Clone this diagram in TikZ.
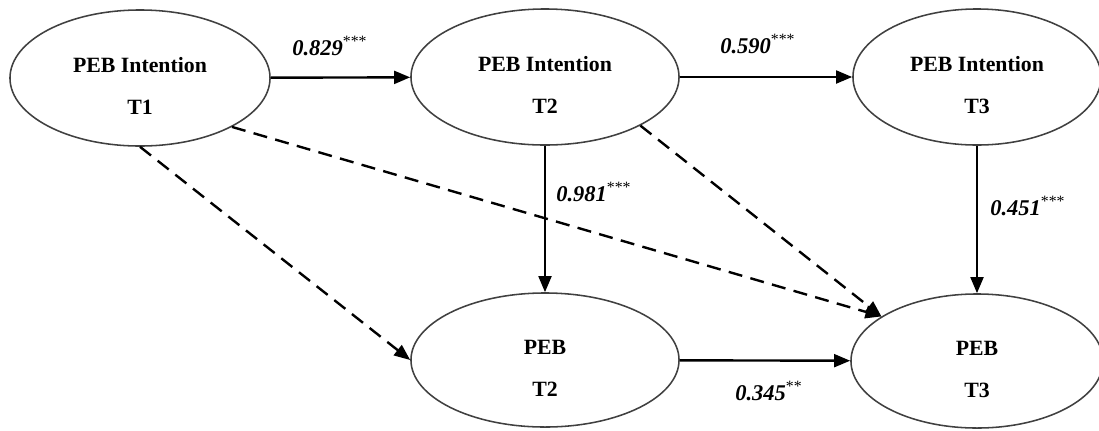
\documentclass[tikz,border=0pt]{standalone}
\usepackage{fontspec}
\setmainfont{Liberation Serif}
\usetikzlibrary{shapes.geometric,arrows.meta}

\newcommand{\pstars}[1]{\textsuperscript{\mdseries\upshape #1}}
\newcommand{\lift}{\rule{0pt}{22pt}}

\begin{document}
\begin{tikzpicture}[x=0.025cm, y=-0.025cm,
    latent/.style={ellipse, draw=black!75, line width=1.1pt, minimum width=#1,
        minimum height=3.4cm, inner sep=0pt, align=center,
        font=\fontsize{15.5}{18}\selectfont\bfseries},
    effect/.style={line width=1.7pt, -{Triangle[length=0.4cm, width=0.32cm]}},
    nseffect/.style={effect, dash pattern=on 10pt off 6pt},
    coef/.style={anchor=base west, inner sep=0pt,
        font=\fontsize{16}{19}\selectfont\bfseries\itshape}]

    \useasboundingbox (0,0) rectangle (1099,430);

    % Intention, three waves
    \node[latent=6.5cm] (int1) at (140,78) {\lift PEB Intention\\[12pt]T1};
    \node[latent=6.7cm] (int2) at (545,77) {\lift PEB Intention\\[12pt]T2};
    \node[latent=6.2cm] (int3) at (977,77) {\lift PEB Intention\\[12pt]T3};

    % Behaviour, two waves
    \node[latent=6.7cm, minimum height=3.35cm] (peb2) at (545,360) {\lift PEB\\[12pt]T2};
    \node[latent=6.3cm, minimum height=3.35cm] (peb3) at (977,361) {\lift PEB\\[12pt]T3};

    % Significant paths
    \draw[effect] (int1) -- (int2);
    \draw[effect] (int2) -- (int3);
    \draw[effect] (int2) -- (peb2);
    \draw[effect] (int3) -- (peb3);
    \draw[effect] (peb2) -- (peb3);

    % Non-significant paths
    \draw[nseffect] (int1.south) -- (peb2.west);
    \draw[nseffect] (int1.332) -- (peb3.155);
    \draw[nseffect] (int2.333) -- (peb3.155);

    % Coefficients
    \node[coef] (b12) at (292,55) {0.829\pstars{***}};
    \node[coef] (b23) at (720,53) {0.590\pstars{***}};
    \node[coef] (b22) at (556,201) {0.981\pstars{***}};
    \node[coef] (b33) at (990,215) {0.451\pstars{***}};
    \node[coef] (b45) at (735,400) {0.345\pstars{**}};

\end{tikzpicture}
\end{document}
